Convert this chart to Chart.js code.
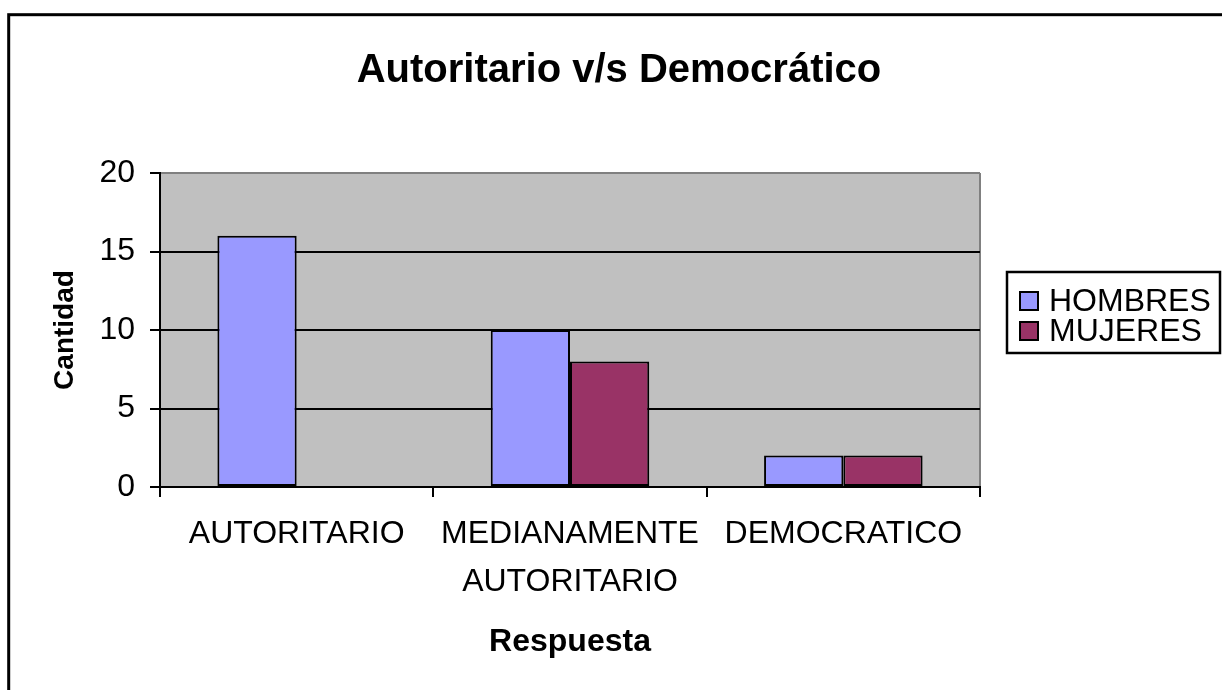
<!DOCTYPE html>
<html>
<head>
<meta charset="utf-8">
<script src="https://cdn.jsdelivr.net/npm/chart.js@4/dist/chart.umd.min.js"></script>
<style>
  html, body { margin: 0; padding: 0; background: #fff; }
  #wrap { width: 1222px; height: 690px; }
</style>
</head>
<body>
<div id="wrap"><canvas id="respChart"></canvas></div>
<script>
var categorias = ['AUTORITARIO', ['MEDIANAMENTE', 'AUTORITARIO'], 'DEMOCRATICO'];
var hombres = [16, 10, 2];
var mujeres = [0, 8, 2];
var ticksY = [0, 5, 10, 15, 20];

var fuente = '"Liberation Sans", Arial, sans-serif';

// fondo gris del area y borde gris derecho
var fondoPlugin = {
	id: 'fondo',
	beforeDraw: function(chart) {
		var ctx = chart.ctx, a = chart.chartArea;
		ctx.save();
		ctx.fillStyle = '#fff';
		ctx.fillRect(0, 0, chart.width, chart.height);
		ctx.fillStyle = '#C0C0C0';
		ctx.fillRect(a.left, a.top, a.right - a.left, a.bottom - a.top);
		ctx.strokeStyle = '#808080';
		ctx.lineWidth = 2;
		ctx.beginPath();
		ctx.moveTo(a.right, a.top);
		ctx.lineTo(a.right, a.bottom);
		ctx.stroke();
		ctx.restore();
	},
	afterDraw: function(chart) {
		var ctx = chart.ctx;
		ctx.save();
		// marco exterior
		ctx.strokeStyle = '#000';
		ctx.lineWidth = 3;
		ctx.strokeRect(8.7, 14.7, 1400, 900);
		// leyenda
		var lx = 1007, ly = 272, lw = 213, lh = 81;
		ctx.lineWidth = 2.5;
		ctx.strokeRect(lx, ly, lw, lh);
		ctx.font = '32px ' + fuente;
		ctx.textBaseline = 'middle';
		chart.data.datasets.forEach(function(ds, i) {
			var cy = 301 + i * 30;
			ctx.fillStyle = ds.backgroundColor;
			ctx.fillRect(1020, cy - 9, 18, 18);
			ctx.strokeStyle = '#000';
			ctx.lineWidth = 2;
			ctx.strokeRect(1020, cy - 9, 18, 18);
			ctx.fillStyle = '#000';
			ctx.fillText(ds.label, 1049, cy + 1);
		});
		ctx.restore();
	}
};

var ctx = document.getElementById('respChart').getContext('2d');
var myChart = new Chart(ctx, {
	type: 'bar',
	data: {
		labels: categorias,
		datasets: [{
			label: 'HOMBRES',
			data: hombres,
			backgroundColor: '#9999FF',
			borderColor: '#000',
			borderWidth: 2,
			borderSkipped: false
		},
		{
			label: 'MUJERES',
			data: mujeres,
			backgroundColor: '#993366',
			borderColor: '#000',
			borderWidth: 2,
			borderSkipped: false
		}]
	},
	options: {
		responsive: true,
		maintainAspectRatio: false,
		animation: false,
		categoryPercentage: 0.58,
		barPercentage: 1,
		layout: { padding: { left: 16, right: 0, top: 0, bottom: 0 } },
		plugins: {
			legend: { display: false },
			tooltip: { enabled: false },
			title: {
				display: true,
				text: 'Autoritario v/s Democrático',
				color: '#000',
				font: { family: fuente, size: 40, weight: 'bold', lineHeight: 1.2 },
				padding: { top: 47, bottom: 78 }
			}
		},
		scales: {
			x: {
				grid: { drawOnChartArea: false, color: '#000', lineWidth: 2, tickLength: 10 },
				border: { color: '#000', width: 2 },
				ticks: {
					color: '#000',
					autoSkip: false,
					maxRotation: 0,
					padding: 13,
					font: { family: fuente, size: 32, lineHeight: 1.5 }
				},
				title: {
					display: true,
					text: 'Respuesta',
					color: '#000',
					font: { family: fuente, size: 32, weight: 'bold', lineHeight: 1.2 },
					padding: { top: 0, bottom: 29 }
				},
				afterFit: function(s) { s.height = 203; }
			},
			y: {
				min: 0,
				max: 20,
				afterBuildTicks: function(s) { s.ticks = ticksY.map(function(v) { return { value: v }; }); },
				grid: {
					color: function(c) { return c.tick && c.tick.value === 20 ? '#808080' : '#000'; },
					tickColor: '#000',
					lineWidth: 2,
					tickLength: 10
				},
				border: { color: '#000', width: 2 },
				ticks: {
					color: '#000',
					padding: 15,
					font: { family: fuente, size: 32 }
				},
				title: {
					display: true,
					text: 'Cantidad',
					color: '#000',
					font: { family: fuente, size: 28, weight: 'bold', lineHeight: 1.2 },
					padding: { top: 32, bottom: 0 }
				},
				afterFit: function(s) { s.width = 144; }
			},
			y2: {
				position: 'right',
				grid: { display: false },
				border: { display: false },
				ticks: { display: false },
				afterFit: function(s) { s.width = 242; }
			}
		}
	},
	plugins: [fondoPlugin]
});
</script>
</body>
</html>
